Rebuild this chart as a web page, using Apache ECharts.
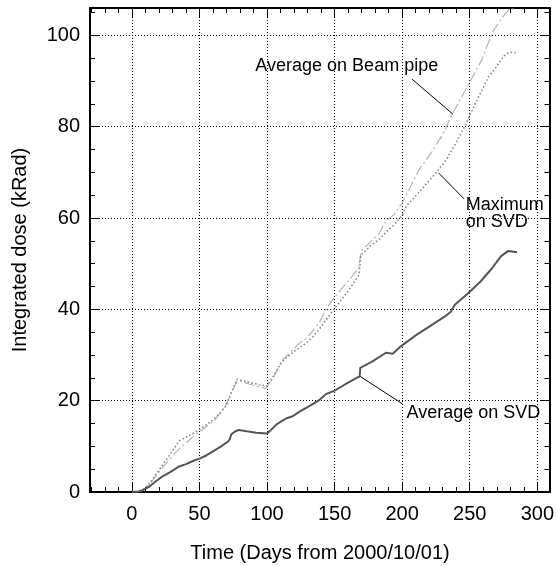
<!DOCTYPE html>
<html>
<head>
<meta charset="utf-8">
<script src="https://cdn.jsdelivr.net/npm/echarts@6/dist/echarts.min.js"></script>
<style>
html,body{margin:0;padding:0;background:#fff;}
#chart{width:557px;height:566px;}
</style>
</head>
<body>
<div id="chart"></div>
<script>
// ---- data ----
const svdAvgDays = [0, 5, 8, 13, 18, 22, 28, 35, 40, 46, 50, 55, 60, 66, 71, 72.5, 73.5, 76, 79, 85, 92, 100, 103, 107, 114, 119, 124, 130, 138, 144, 150, 158, 167, 168.5, 169, 178, 188, 193, 199, 210, 222, 232, 236, 239, 249, 258, 266.5, 273, 278.5, 285];
const svdAvgDose = [0, 0.1, 0.4, 1.2, 2.4, 3.3, 4.3, 5.6, 6.1, 6.9, 7.3, 8.0, 8.9, 10.0, 11.0, 11.6, 12.6, 13.2, 13.6, 13.3, 13.0, 12.8, 13.6, 14.8, 16.1, 16.6, 17.6, 18.6, 20.0, 21.5, 22.2, 23.6, 25.1, 25.3, 27.2, 28.6, 30.5, 30.3, 31.9, 34.3, 36.6, 38.5, 39.5, 41.0, 43.6, 46.1, 49.0, 51.6, 52.8, 52.5];

const svdMaxDays = [3, 8, 12, 17, 23, 30, 35, 40, 47.5, 55, 60, 66, 70, 73.5, 78, 84, 94, 100, 104, 111, 114, 121, 128, 134, 139, 146, 150, 160, 168, 169.5, 176, 183, 190, 193, 200, 203, 212, 225, 232, 239, 247, 254, 264, 268, 271.7, 275.4, 279, 284];
const svdMaxDose = [0, 0.4, 1.5, 3.5, 6.0, 9.0, 11.2, 12.0, 13.2, 14.7, 15.8, 17.5, 19.0, 21.8, 24.7, 24.2, 23.5, 23.2, 25.0, 28.5, 29.3, 31.0, 32.4, 34.0, 35.8, 38.6, 40.2, 44.0, 47.5, 51.8, 53.8, 55.3, 57.5, 58.2, 60.6, 62.6, 65.5, 69.9, 72.5, 76.0, 80.5, 85.0, 91.0, 92.4, 94.0, 95.5, 96.3, 96.2];

const pipeDays = [3, 8, 14, 23, 35, 47, 55, 62, 70, 73.5, 78, 85, 94, 99, 104, 111.5, 119, 124, 129, 138.6, 143.6, 149, 155, 161, 168, 169.5, 176, 183, 188, 194, 200, 205, 212.5, 222, 230, 237, 244, 250, 259, 266.6, 273, 279, 284];
const pipeDose = [0, 0.3, 2.0, 5.5, 9.5, 12.5, 14.3, 16.0, 19.3, 21.5, 24.5, 23.8, 23.0, 22.7, 24.8, 28.9, 31.1, 32.6, 33.6, 37.0, 40.0, 42.3, 44.5, 46.5, 49.2, 52.8, 54.6, 56.7, 59.3, 60.8, 63.3, 66.2, 70.6, 74.5, 78.3, 82.7, 86.5, 89.8, 94.7, 100.6, 103.5, 105.7, 105.8];

const seriesNames = ['Average on SVD', 'Maximum on SVD', 'Average on Beam pipe'];
const xTitle = 'Time (Days from 2000/10/01)';
const yTitle = 'Integrated dose (kRad)';

// ---- layout ----
const X_MIN = -31, X_MAX = 309, Y_MIN = 0, Y_MAX = 106;
const FONT = '"Liberation Sans", Arial, Helvetica, sans-serif';

function zip(a, b) { return a.map((v, i) => [v, b[i]]); }

const chart = echarts.init(document.getElementById('chart'), null, { renderer: 'canvas' });

const frame = { show: true, onZero: false, lineStyle: { color: '#000', width: 2 } };
const noLine = { show: false, onZero: false };
const gridLine = { show: true, lineStyle: { color: '#000', width: 1, type: [1, 2] } };

function xAx(pos, step, major, labels) {
  return {
    type: 'value', position: pos, min: X_MIN, max: X_MAX,
    minInterval: step, maxInterval: step,
    axisLine: major ? frame : noLine,
    axisTick: { show: true, inside: true, length: major ? 9 : 5, lineStyle: { color: '#000', width: 1 } },
    axisLabel: labels ? { show: true, fontSize: 20, fontFamily: FONT, color: '#000', margin: 12, showMinLabel: false, showMaxLabel: false } : { show: false },
    splitLine: (major && labels) ? gridLine : { show: false }
  };
}
function yAx(pos, step, major, labels) {
  return {
    type: 'value', position: pos, min: Y_MIN, max: Y_MAX, interval: step,
    axisLine: major ? frame : noLine,
    axisTick: { show: true, inside: true, length: major ? 9 : 5, lineStyle: { color: '#000', width: 1 } },
    axisLabel: labels ? { show: true, fontSize: 20, fontFamily: FONT, color: '#000', margin: 10, showMaxLabel: false } : { show: false },
    splitLine: (major && labels) ? gridLine : { show: false }
  };
}

const option = {
  animation: false,
  backgroundColor: '#fff',
  grid: { left: 90, right: 6, top: 8, bottom: 74, containLabel: false },
  xAxis: [xAx('bottom', 50, true, true), xAx('top', 50, true, false), xAx('top', 10, false, false), xAx('bottom', 10, false, false)],
  yAxis: [yAx('left', 20, true, true), yAx('right', 20, true, false), yAx('right', 5, false, false), yAx('left', 5, false, false)],
  series: [
    {
      name: seriesNames[2], type: 'line', xAxisIndex: 0, yAxisIndex: 0,
      data: zip(pipeDays, pipeDose), showSymbol: false, symbol: 'none', clip: true, z: 3,
      lineStyle: { color: '#b4b4b4', width: 1.2, type: [10, 3, 2, 3] }
    },
    {
      name: seriesNames[1], type: 'line', xAxisIndex: 0, yAxisIndex: 0,
      data: zip(svdMaxDays, svdMaxDose), showSymbol: false, symbol: 'none', clip: true, z: 4,
      lineStyle: { color: '#8a8a8a', width: 1.6, type: [1.6, 2.2] }
    },
    {
      name: seriesNames[0], type: 'line', xAxisIndex: 0, yAxisIndex: 0,
      data: zip(svdAvgDays, svdAvgDose), showSymbol: false, symbol: 'none', clip: true, z: 5,
      lineStyle: { color: '#555555', width: 2 }
    }
  ]
};
chart.setOption(option);

// ---- annotations (positions in data coordinates) ----
const annotations = [
  { text: seriesNames[2], at: [159, 93.2], align: 'center', from: [207.4, 90.4], to: [237.7, 82.7] },
  { text: 'Maximum\non SVD', at: [247.1, 60.9], align: 'left', from: [226.9, 69.9], to: [245.8, 64.2] },
  { text: seriesNames[0], at: [203.2, 17.4], align: 'left', from: [169, 25.3], to: [200.2, 19.3] }
];
const px = p => chart.convertToPixel({ xAxisIndex: 0, yAxisIndex: 0 }, p);
const graphics = [];
annotations.forEach(a => {
  const t = px(a.at), f = px(a.from), e = px(a.to);
  graphics.push({
    type: 'text', x: t[0], y: t[1], z: 20,
    style: { text: a.text, fontSize: 18, fontFamily: FONT, fill: '#000', align: a.align, verticalAlign: 'middle', lineHeight: 17 }
  });
  graphics.push({
    type: 'line', z: 20, shape: { x1: f[0], y1: f[1], x2: e[0], y2: e[1] },
    style: { stroke: '#000', lineWidth: 1 }
  });
});
// axis titles
graphics.push({ type: 'text', x: 320, y: 553, style: { text: xTitle, fontSize: 20, fontFamily: FONT, fill: '#000', align: 'center', verticalAlign: 'middle' } });
graphics.push({ type: 'text', x: 20, y: 250, rotation: Math.PI / 2, style: { text: yTitle, fontSize: 20, fontFamily: FONT, fill: '#000', align: 'center', verticalAlign: 'middle' } });
chart.setOption({ graphic: graphics });
</script>
</body>
</html>
